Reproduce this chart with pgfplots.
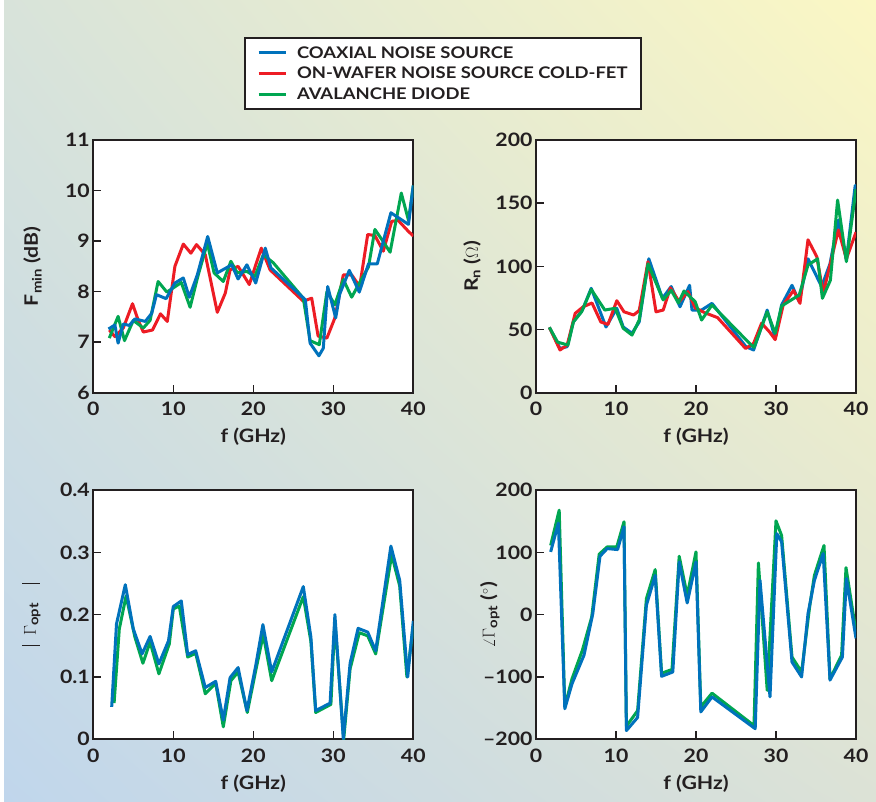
\documentclass[border=0pt]{standalone}
\usepackage{pgfplots}
\pgfplotsset{compat=1.18}
\usetikzlibrary{shadings}
\usepackage{fontspec}
\setmainfont{Lato}[FakeStretch=1.15]
\definecolor{cblue}{RGB}{0,114,188}
\definecolor{cred}{RGB}{237,28,36}
\definecolor{cgreen}{RGB}{0,166,81}
\definecolor{dark}{RGB}{35,31,32}
\definecolor{bgtl}{RGB}{216,227,218}
\definecolor{bgtr}{RGB}{251,247,196}
\definecolor{bgbl}{RGB}{192,214,236}
\definecolor{bgbr}{RGB}{220,226,214}
\newcommand{\lblfont}{\fontsize{18.5}{21}\selectfont\bfseries}

\pgfplotsset{
  panel/.style={
    scale only axis, width=320pt,
    xmin=0, xmax=40, xtick={0,10,20,30,40},
    tick align=inside, tick pos=left, major tick length=8pt,
    axis line style={dark, line width=2pt},
    tick style={dark, line width=1.5pt},
    tick label style={font=\lblfont, text=dark},
    xticklabel style={yshift=-6pt},
    /pgf/number format/assume math mode=true,
    xlabel={f (GHz)},
    every axis x label/.style={at={(axis description cs:0.5,0)}, anchor=center, yshift=-44pt, font=\lblfont, text=dark},
    every axis y label/.style={rotate=90, anchor=center, font=\lblfont, text=dark},
    axis background/.style={fill=white},
    every axis plot/.append style={line width=3pt, line join=round, no markers},
  }
}

\pgfplotstableread{
x y
1.9 7.26
2.7 7.34
3.1 6.98
3.75 7.36
4.5 7.33
5.2 7.46
6.5 7.41
7.3 7.57
7.9 7.94
9.1 7.86
10.2 8.17
11.25 8.27
12.0 7.89
13.0 8.33
14.3 9.09
15.5 8.37
17.3 8.53
18.1 8.25
19.2 8.53
20.3 8.17
21.5 8.86
22.2 8.47
26.5 7.84
27.1 6.98
28.2 6.73
28.75 6.88
29.3 8.10
30.3 7.48
30.8 7.95
32.0 8.42
33.25 7.99
34.4 8.55
35.5 8.55
37.2 9.56
39.4 9.33
40.0 10.1
}\fminblue
\pgfplotstableread{
x y
2.0 7.24
2.7 7.11
3.75 7.28
4.9 7.76
5.6 7.44
6.25 7.20
7.4 7.24
8.4 7.56
9.25 7.41
10.2 8.50
11.25 8.94
12.2 8.76
12.9 8.93
14.0 8.73
15.5 7.59
16.5 7.97
17.1 8.43
18.1 8.50
19.5 8.14
21.0 8.86
22.1 8.43
26.25 7.81
27.3 7.87
28.1 7.12
29.2 7.08
30.2 7.48
31.25 8.33
32.3 8.33
33.3 8.10
34.3 9.13
35.2 9.11
36.25 8.80
37.3 9.39
38.1 9.41
39.4 9.19
40.0 9.10
}\fminred
\pgfplotstableread{
x y
2.0 7.08
3.1 7.51
3.9 7.03
5.0 7.43
6.25 7.28
7.1 7.43
8.1 8.20
9.2 7.99
11.0 8.18
12.1 7.69
13.1 8.32
14.25 8.96
15.1 8.37
16.25 8.20
17.2 8.60
18.0 8.37
19.2 8.40
20.2 8.30
21.25 8.73
22.5 8.57
26.25 7.87
27.1 7.03
28.25 6.95
29.2 8.00
30.2 7.74
31.25 8.24
32.3 7.89
33.3 8.18
34.4 8.49
35.2 9.23
36.2 9.00
37.1 8.78
38.5 9.95
39.4 9.41
40.0 10.1
}\fmingreen

\pgfplotstableread{
x y
1.67 51.7
3.0 35
3.9 36.4
4.67 56
5.8 65.4
6.9 82.6
8.75 52
10.1 66.8
10.9 52
12.0 47
12.9 56
14.1 106
15.8 74.7
16.9 84
18.0 68
19.2 85
19.5 65.4
20.7 65.4
22.0 70.7
26.25 36.4
27.2 33.8
28.9 65.4
29.9 43
30.7 69.4
32.0 85
32.9 72
34.0 106
35.7 84
36.75 102
37.8 136.7
38.8 105
39.9 164
40.0 158
}\rnblue
\pgfplotstableread{
x y
1.67 51.7
3.0 33.8
3.9 37.7
4.9 62.8
5.9 68
7.0 71
8.1 56
9.0 54
10.1 72.8
11.0 64
12.2 61.5
12.9 65
14.0 103.7
15.0 64
15.9 65.4
16.8 83
17.9 72
19.0 80
19.9 67
21.1 63.3
22.7 59.4
26.2 35
27.2 39
28.2 55
29.2 48
29.9 42
30.9 69.4
32.2 81
33.0 70.7
34.0 121
35.1 107.6
35.9 78.6
37.8 128.8
38.8 106
40.0 127
}\rnred
\pgfplotstableread{
x y
1.67 51.7
2.7 40
4.0 37.7
4.67 56
5.7 64
6.9 81.8
8.6 65.4
9.9 66.8
10.9 51
12.0 45.6
12.9 57.5
14.0 102
15.9 73.4
16.9 81
17.8 71
18.5 80.5
19.9 72
20.7 57.5
22.0 69.4
26.7 39
27.25 35.9
28.9 64
29.9 47
30.7 68.6
32.9 77.3
34.0 101
35.2 106
35.8 74.7
36.8 89
37.7 152.5
38.8 103.7
40.0 161
}\rngreen

\pgfplotstableread{
x y
2.3 0.052
2.9 0.185
4.0 0.248
5.0 0.177
6.1 0.137
7.1 0.165
8.2 0.121
9.4 0.158
10.0 0.213
11.0 0.222
11.8 0.136
12.8 0.142
14.0 0.083
15.3 0.093
16.25 0.031
17.1 0.099
18.1 0.115
19.2 0.046
20.3 0.118
21.2 0.184
22.3 0.108
26.25 0.245
27.2 0.164
27.8 0.046
29.6 0.058
30.2 0.200
31.25 0.001
32.1 0.122
33.1 0.178
34.3 0.172
35.3 0.142
37.2 0.310
38.3 0.255
39.3 0.100
40.0 0.190
}\gamblue
\pgfplotstableread{
x y
2.6 0.058
3.25 0.177
4.1 0.230
5.2 0.164
6.2 0.122
7.1 0.156
8.2 0.105
9.5 0.153
10.0 0.209
10.75 0.214
11.8 0.132
12.8 0.138
14.0 0.073
15.3 0.090
16.25 0.020
17.2 0.094
18.1 0.108
19.25 0.043
20.3 0.110
21.25 0.168
22.3 0.094
26.25 0.229
27.2 0.157
27.8 0.043
29.7 0.056
30.2 0.190
31.3 0.000
32.1 0.113
33.25 0.171
34.3 0.166
35.3 0.137
37.3 0.296
38.3 0.246
39.2 0.100
40.0 0.182
}\gamgreen

\pgfplotstableread{
x y
1.83 100.7
2.8 147
3.6 -151
4.5 -111
6.0 -65
7.1 1.6
8.0 93.7
8.9 106
10.2 104.4
11.0 141
11.3 -186
12.7 -165
13.8 15
14.9 63
15.7 -99
17.1 -92
17.9 84.6
18.9 18.7
20.0 84.6
20.6 -156
22.0 -132
27.4 -183
28.0 55
29.25 -132
30.1 130
30.7 117
32.0 -76
33.2 -100
34.0 1.6
34.8 55
35.9 98
36.75 -105
38.3 -68
38.8 58
40.0 -38
}\angblue
\pgfplotstableread{
x y
1.83 111
2.9 167.6
3.6 -148
4.5 -103
5.8 -57
6.96 -4
7.9 97
8.9 108.7
10.1 108.7
11.0 149
11.3 -179
12.7 -154
13.8 25.7
14.9 72.3
15.7 -94
17.0 -88
17.9 93.7
18.9 31
20.0 100.7
20.6 -148
22.0 -126
27.25 -178
27.8 83
28.9 -121.5
30.0 150.5
30.7 127
32.0 -68
33.2 -92
34.2 12
34.8 63
36.0 111
36.75 -103
38.2 -65
38.75 75.5
40.0 -28
}\anggreen

\begin{document}
\begin{tikzpicture}
\useasboundingbox (0pt,0pt) rectangle (876pt,802pt);
\shade[upper left=bgtl, upper right=bgtr, lower left=bgbl, lower right=bgbr] (0pt,0pt) rectangle (876pt,802pt);
\fill[white] (0pt,0pt) rectangle (4pt,802pt);

% Fmin
\begin{axis}[panel, at={(93.3pt,662pt)}, anchor=north west, height=252.7pt,
  ymin=6, ymax=11, ytick={6,7,8,9,10,11},
  ylabel={F\textsubscript{min} (dB)},
  ylabel style={at={(axis description cs:-0.19,0.5)}},
  legend style={at={(axis description cs:0.471,1.406)}, anchor=north west,
    draw=dark, line width=2pt, fill=white,
    font=\fontsize{16}{18}\selectfont\bfseries, text=dark,
    row sep=3.5pt, inner xsep=12pt, inner ysep=6pt,
    cells={anchor=west},
    /tikz/every odd column/.append style={column sep=8pt}},
  legend image code/.code={\draw[#1, line width=3pt] (0pt,0pt) -- (27pt,0pt);},
]
\addlegendimage{cblue}\addlegendentry{COAXIAL NOISE SOURCE}
\addlegendimage{cred}\addlegendentry{ON-WAFER NOISE SOURCE COLD-FET}
\addlegendimage{cgreen}\addlegendentry{AVALANCHE DIODE}
\addplot[cred, forget plot] table {\fminred};
\addplot[cgreen, forget plot] table {\fmingreen};
\addplot[cblue, forget plot] table {\fminblue};
\end{axis}

% Rn
\begin{axis}[panel, at={(536pt,662pt)}, anchor=north west, height=252.7pt,
  ymin=0, ymax=200, ytick={0,50,100,150,200},
  ylabel={R\textsubscript{n} ($\Omega$)},
  ylabel style={at={(axis description cs:-0.2,0.5)}},
]
\addplot[cblue] table {\rnblue};
\addplot[cred] table {\rnred};
\addplot[cgreen] table {\rngreen};
\end{axis}

% |Gamma opt|
\begin{axis}[panel, at={(93.3pt,312pt)}, anchor=north west, height=249.3pt,
  ymin=0, ymax=0.4, ytick={0,0.1,0.2,0.3,0.4}, yticklabels={0,0.1,0.2,0.3,0.4},
  ylabel={\rule[-4pt]{1.1pt}{18pt}\enspace$\Gamma$\textsubscript{opt}\quad\rule[-4pt]{1.1pt}{18pt}},
  ylabel style={at={(axis description cs:-0.194,0.5)}},
]
\addplot[cgreen] table {\gamgreen};
\addplot[cblue] table {\gamblue};
\end{axis}

% angle Gamma opt
\begin{axis}[panel, at={(536pt,312pt)}, anchor=north west, height=249.3pt,
  ymin=-200, ymax=200, ytick={-200,-100,0,100,200}, yticklabels={--200,--100,0,100,200},
  ylabel={$\angle\Gamma$\textsubscript{opt} ($^\circ$)},
  ylabel style={at={(axis description cs:-0.144,0.5)}},
]
\addplot[cgreen] table {\anggreen};
\addplot[cblue] table {\angblue};
\end{axis}
\end{tikzpicture}
\end{document}
